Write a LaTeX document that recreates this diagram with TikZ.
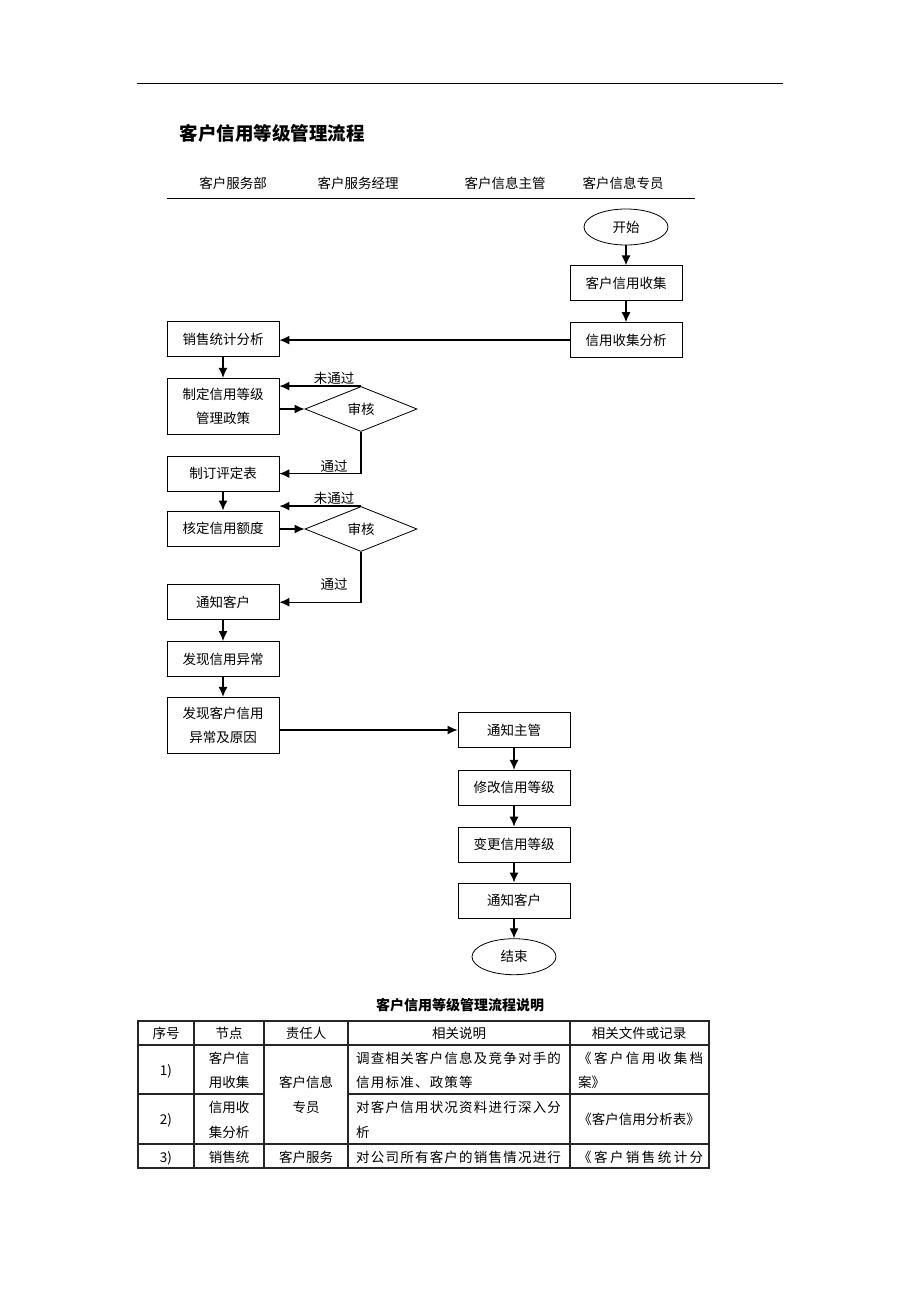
\documentclass[tikz,border=0pt]{standalone}
\usepackage{fontspec}
\newfontfamily\cjk{Noto Sans CJK SC}
\newfontfamily\cjkwide[LetterSpace=9]{Noto Sans CJK SC}
\newfontfamily\cjkwider[LetterSpace=18]{Noto Sans CJK SC}
\usetikzlibrary{arrows.meta,positioning,shapes.geometric}

\begin{document}
\begin{tikzpicture}[x=1pt, y=-1pt,
            font=\cjk\fontsize{13.5}{24}\selectfont,
            node distance=21pt,
            proc/.style={draw, line width=0.8pt, minimum width=112pt,
            minimum height=35pt, inner sep=0pt, align=center},
            term/.style={draw, ellipse, line width=0.8pt, minimum width=84pt,
            minimum height=36pt, inner sep=0pt},
            audit/.style={draw, diamond, aspect=2.5, line width=0.8pt,
            minimum width=112pt, minimum height=45pt, inner sep=0pt},
            ar/.style={-{Latex[length=10pt,width=9pt]}, line width=1.3pt},
            lbl/.style={inner sep=1pt},
            rule/.style={line width=1.1pt, black!85},
            cell/.style={inner sep=0pt, anchor=base},
            lcell/.style={inner sep=0pt, anchor=base west}
        ]
\useasboundingbox (0,0) rectangle (920,1302);

% Page head
            \draw[line width=0.8pt] (137,83) -- (783,83);
            \node[anchor=base west, font=\cjk\bfseries\fontsize{18.5}{20}\selectfont] (title) at (176,140) {客户信用等级管理流程};
            \node[cell] (lane1) at (233,188) {客户服务部};
            \node[cell] (lane2) at (358,188) {客户服务经理};
            \node[cell] (lane3) at (505,188) {客户信息主管};
            \node[cell] (lane4) at (623,188) {客户信息专员};
            \draw[line width=0.9pt] (167,198) -- (695,198);

% Information clerk
            \node[term]                                (start)   at (626,227) {开始};
            \node[proc, below=20pt of start]           (collect) {客户信用收集};
            \node[proc, below=of collect]              (analyse) {信用收集分析};

% Service department
            \node[proc]                                (sales)   at (223,339) {销售统计分析};
            \node[proc, minimum height=56pt, below=of sales] (policy) {制定信用等级\\管理政策};
            \node[proc, below=of policy]               (table)   {制订评定表};
            \node[proc, below=19pt of table]           (quota)   {核定信用额度};
            \node[proc, below=38pt of quota]           (inform)  {通知客户};
            \node[proc, below=of inform]               (anomaly) {发现信用异常};
            \node[proc, minimum height=56pt, below=20pt of anomaly] (cause) {发现客户信用\\异常及原因};

% Service manager
            \node[audit]                               (audit1)  at (361,409) {审核};
            \node[audit]                               (audit2)  at (361,529) {审核};

% Information supervisor
            \node[proc]                                (notify)  at (514,730) {通知主管};
            \node[proc, below=22pt of notify]          (modify)  {修改信用等级};
            \node[proc, below=of modify]               (change)  {变更信用等级};
            \node[proc, below=20pt of change]          (inform2) {通知客户};
            \node[term, below=20pt of inform2]         (finish)  {结束};

            \draw[ar] (start) -- (collect);
            \draw[ar] (collect) -- (analyse);
            \draw[ar] (analyse.west) -- (analyse.west -| sales.east);
            \draw[ar] (sales) -- (policy);
            \draw[ar] (policy.east |- audit1.west) -- (audit1.west);
            \draw[ar] (audit1.north) -- (policy.east |- audit1.north)
                node[lbl, pos=0.33, above] {未通过};
            \draw[ar] (audit1.south) |- (table.east)
                node[lbl, pos=0.665, above] {通过};
            \draw[ar] (table) -- (quota);
            \draw[ar] (quota.east |- audit2.west) -- (audit2.west);
            \draw[ar] (audit2.north) -- (quota.east |- audit2.north)
                node[lbl, pos=0.33, above] {未通过};
            \draw[ar] (audit2.south) |- (inform.east)
                node[lbl, pos=0.665, above=10pt] {通过};
            \draw[ar] (inform) -- (anomaly);
            \draw[ar] (anomaly) -- (cause);
            \draw[ar] (cause.east |- notify.west) -- (notify.west);
            \draw[ar] (notify) -- (modify);
            \draw[ar] (modify) -- (change);
            \draw[ar] (change) -- (inform2);
            \draw[ar] (inform2) -- (finish);

% Explanation table
            \node[font=\cjk\bfseries\fontsize{14}{16}\selectfont] (tabtitle) at (460,1005) {客户信用等级管理流程说明};
            \draw[rule] (138,1021) rectangle (709,1168);
            \foreach \x in {194,264,348,570}
                \draw[rule] (\x,1021) -- (\x,1168);
            \draw[rule] (138,1045) -- (709,1045);
            \draw[rule] (138,1094) -- (264,1094) (348,1094) -- (709,1094);
            \draw[rule] (138,1144) -- (709,1144);

            \node[cell] (h1) at (166,1038) {序号};
            \node[cell] (h2) at (229,1038) {节点};
            \node[cell] (h3) at (306,1038) {责任人};
            \node[cell] (h4) at (459,1038) {相关说明};
            \node[cell] (h5) at (639,1038) {相关文件或记录};

            \node[cell]  (r1a) at (166,1075) {1)};
            \node[cell]  (r1b) at (229,1063) {客户信};
            \node[cell]  (r1c) at (229,1087) {用收集};
            \node[lcell, font=\cjkwide\fontsize{13.5}{24}\selectfont]  (r1d) at (356,1063) {调查相关客户信息及竞争对手的};
            \node[lcell, font=\cjkwide\fontsize{13.5}{24}\selectfont]  (r1e) at (356,1087) {信用标准、政策等};
            \node[lcell, font=\cjkwider\fontsize{13.5}{24}\selectfont] (r1f) at (578,1063) {《客户信用收集档};
            \node[lcell] (r1g) at (578,1087) {案》};

            \node[cell] (r12) at (306,1087) {客户信息};
            \node[cell] (r12b) at (306,1112) {专员};

            \node[cell]  (r2a) at (166,1124) {2)};
            \node[cell]  (r2b) at (229,1112) {信用收};
            \node[cell]  (r2c) at (229,1137) {集分析};
            \node[lcell, font=\cjkwide\fontsize{13.5}{24}\selectfont] (r2d) at (356,1112) {对客户信用状况资料进行深入分};
            \node[lcell] (r2e) at (356,1137) {析};
            \node[cell]  (r2f) at (639,1124) {《客户信用分析表》};

            \node[cell]  (r3a) at (166,1162) {3)};
            \node[cell]  (r3b) at (229,1162) {销售统};
            \node[cell]  (r3c) at (306,1162) {客户服务};
            \node[lcell, font=\cjkwide\fontsize{13.5}{24}\selectfont]  (r3d) at (356,1162) {对公司所有客户的销售情况进行};
            \node[lcell, font=\cjkwider\fontsize{13.5}{24}\selectfont] (r3e) at (578,1162) {《客户销售统计分};
        \end{tikzpicture}
\end{document}
